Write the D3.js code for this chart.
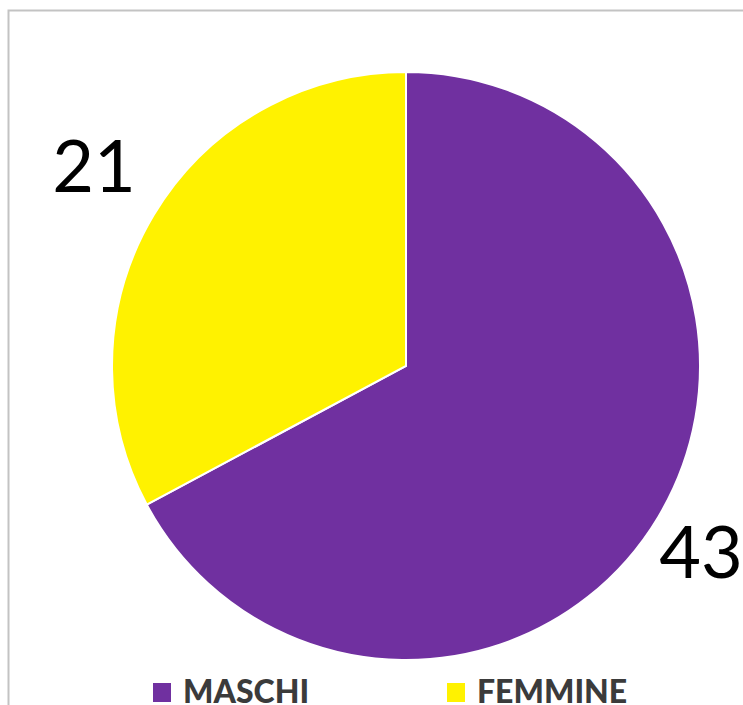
<!DOCTYPE html>
<html>
<head>
<meta charset="utf-8">
<script src="https://cdn.jsdelivr.net/npm/d3@7"></script>
<style>
  body { margin: 0; background: #fff; }
</style>
</head>
<body>
<div id="pie-chart"></div>
<script>
// data
var categories = ["MASCHI", "FEMMINE"];
var values = [43, 21];
var colors = ["#7030A0", "#FFF200"];

var width = 743, height = 705;
var cx = 406, cy = 366, radius = 294;

const svg = d3.select("#pie-chart")
    .append("svg")
    .attr("width", width)
    .attr("height", height);

// chart frame
svg.append("path")
    .attr("d", "M8.5,705 L8.5,10.5 L743,10.5")
    .attr("fill", "none")
    .attr("stroke", "#c3c3c3")
    .attr("stroke-width", 2);

var data = categories.map((c, i) => ({ name: c, value: values[i], color: colors[i] }));

var pie = d3.pie().sort(null).value(d => d.value);
var arc = d3.arc().innerRadius(0).outerRadius(radius);

const g = svg.append("g")
    .attr("transform", "translate(" + cx + "," + cy + ")");

var arcs = pie(data);

g.selectAll("path")
    .data(arcs)
    .join("path")
    .attr("d", arc)
    .attr("fill", d => d.data.color)
    .attr("stroke", "#fff")
    .attr("stroke-width", 2);

// value labels sit outside the pie (43 lower right, 21 upper left)
g.selectAll("text.val")
    .data(arcs)
    .join("text")
    .attr("class", "val")
    .attr("x", (d, i) => i == 0 ? 701 - cx : 94 - cx)
    .attr("y", (d, i) => i == 0 ? 578 - cy : 192 - cy)
    .attr("text-anchor", "middle")
    .style("font-family", "Lato, 'Open Sans', sans-serif")
    .style("font-size", "72px")
    .style("fill", "#000")
    .text(d => d.data.value);

// legend
var legendX = [153, 447];
data.forEach((d, i) => {
    svg.append("rect")
        .attr("x", legendX[i])
        .attr("y", 683)
        .attr("width", 18)
        .attr("height", 19)
        .attr("fill", d.color);
    svg.append("text")
        .attr("x", legendX[i] + 30)
        .attr("y", 703)
        .text(d.name)
        .style("font-family", "Lato, 'Open Sans', sans-serif")
        .style("font-weight", "900")
        .style("font-size", "32px")
        .style("fill", "#3b3b3b");
});
</script>
</body>
</html>
